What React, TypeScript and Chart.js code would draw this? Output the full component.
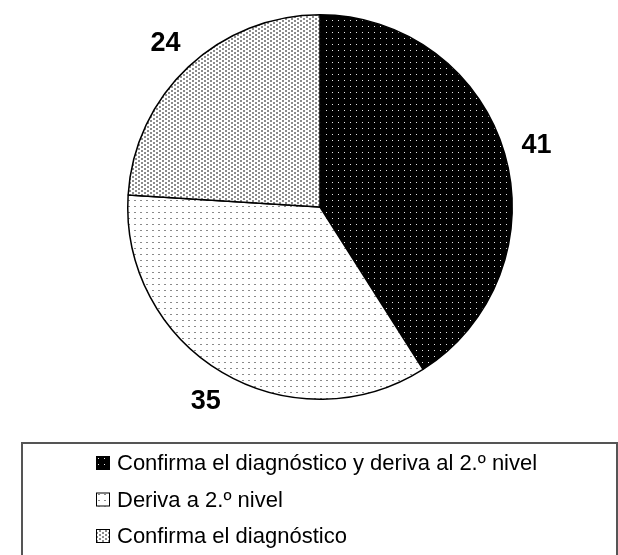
import React, { useEffect, useRef } from 'react';
import { Chart, registerables } from 'chart.js';

Chart.register(...registerables);

const categories = [
  'Confirma el diagnóstico y deriva al 2.º nivel',
  'Deriva a 2.º nivel',
  'Confirma el diagnóstico',
];
const values = [41, 35, 24];
const patternKinds = ['blackDots', 'whiteDots', 'checker'];

function makePattern(kind: string): CanvasPattern | string {
  const c = document.createElement('canvas');
  c.width = 6;
  c.height = kind === 'checker' ? 4 : 6;
  const g = c.getContext('2d');
  if (!g) return '#888';
  if (kind === 'blackDots') {
    g.fillStyle = '#000';
    g.fillRect(0, 0, 6, 6);
    g.fillStyle = '#e6e6e6';
    g.fillRect(2, 2, 1, 1);
  } else if (kind === 'whiteDots') {
    g.fillStyle = '#fff';
    g.fillRect(0, 0, 6, 6);
    g.fillStyle = '#8a8a8a';
    g.fillRect(2, 2, 2, 1);
  } else {
    g.fillStyle = '#fff';
    g.fillRect(0, 0, 6, 4);
    g.fillStyle = '#8c8c8c';
    g.fillRect(0, 0, 2, 2);
    g.fillRect(3, 2, 2, 2);
  }
  const p = g.createPattern(c, 'repeat');
  return p || '#888';
}

const FONT = '"Liberation Sans", Arial, sans-serif';

const outLabels = {
  id: 'outLabels',
  afterDatasetsDraw(chart: any) {
    const ctx = chart.ctx;
    const meta = chart.getDatasetMeta(0);
    ctx.save();
    ctx.font = `bold 27px ${FONT}`;
    ctx.fillStyle = '#000';
    ctx.textAlign = 'center';
    ctx.textBaseline = 'middle';
    meta.data.forEach((arc: any, i: number) => {
      const p = arc.getProps(['x', 'y', 'startAngle', 'endAngle', 'outerRadius'], true);
      const mid = (p.startAngle + p.endAngle) / 2;
      const text = String(chart.data.datasets[0].data[i]);
      const w = ctx.measureText(text).width;
      const h = 20;
      const ux = Math.cos(mid);
      const uy = Math.sin(mid);
      const d = p.outerRadius + 16 + (Math.abs(ux) * w) / 2 + (Math.abs(uy) * h) / 2;
      ctx.fillText(text, p.x + ux * d, p.y + uy * d + 1);
    });
    ctx.restore();
  },
};

const boxLegend = {
  id: 'boxLegend',
  afterDraw(chart: any) {
    const ctx = chart.ctx;
    const bg = chart.data.datasets[0].backgroundColor;
    ctx.save();
    ctx.strokeStyle = '#555';
    ctx.lineWidth = 2;
    ctx.strokeRect(22, 443, 595, 130);
    ctx.font = `22px ${FONT}`;
    ctx.textBaseline = 'middle';
    ctx.textAlign = 'left';
    chart.data.labels.forEach((lab: string, i: number) => {
      const cy = 463 + i * 36.5;
      ctx.fillStyle = bg[i];
      ctx.fillRect(96, cy - 7, 14, 14);
      ctx.strokeStyle = '#000';
      ctx.lineWidth = 1;
      ctx.strokeRect(96.5, cy - 6.5, 13, 13);
      ctx.fillStyle = '#000';
      ctx.fillText(lab, 117, cy + 1);
    });
    ctx.restore();
  },
};

export default function App() {
  const ref = useRef<HTMLCanvasElement>(null);
  useEffect(() => {
    document.body.style.margin = '0';
    const canvas = ref.current;
    if (!canvas) return;
    const chart = new Chart(canvas, {
      type: 'pie',
      data: {
        labels: categories,
        datasets: [
          {
            data: values,
            backgroundColor: patternKinds.map(makePattern) as any,
            borderColor: '#000',
            borderWidth: 1.5,
          },
        ],
      },
      options: {
        responsive: false,
        animation: false,
        layout: { padding: { left: 127, right: 105, top: 14, bottom: 155 } },
        plugins: {
          legend: { display: false },
          tooltip: { enabled: false },
        },
      },
      plugins: [outLabels, boxLegend],
    });
    return () => chart.destroy();
  }, []);
  return (
    <div style={{ width: 618, height: 555, background: '#fff' }}>
      <canvas ref={ref} width={618} height={555} />
    </div>
  );
}
